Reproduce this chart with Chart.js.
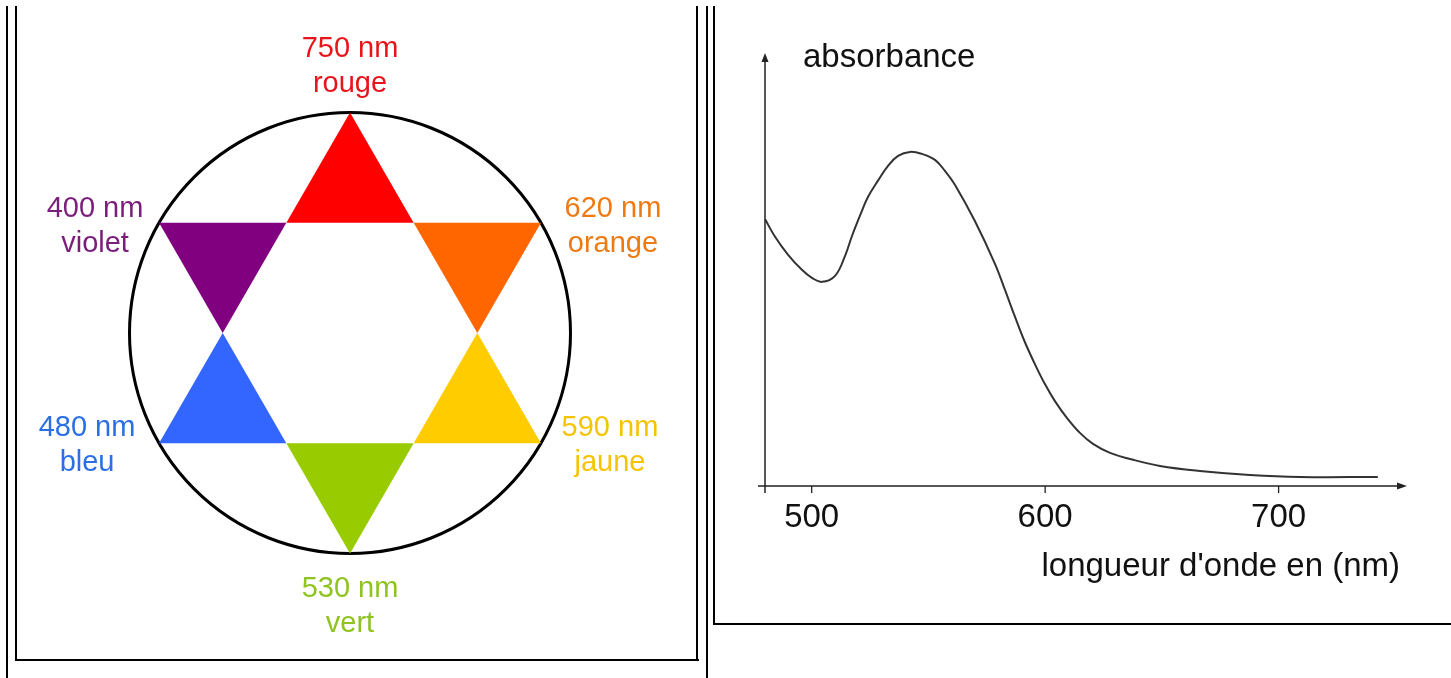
<!DOCTYPE html>
<html>
<head>
<meta charset="utf-8">
<script src="https://cdn.jsdelivr.net/npm/chart.js@4/dist/chart.umd.min.js"></script>
<style>
body{margin:0;background:#fff;width:1451px;height:678px;overflow:hidden;position:relative;font-family:"Liberation Sans",Arial,sans-serif;}
.ln{position:absolute;background:#000;}
canvas{position:absolute;}
</style>
</head>
<body>
<div class="ln" style="left:6px;top:6px;width:2px;height:672px"></div>
<div class="ln" style="left:15px;top:6px;width:2px;height:655px"></div>
<div class="ln" style="left:15px;top:659px;width:684px;height:2px"></div>
<div class="ln" style="left:696px;top:6px;width:2px;height:655px"></div>
<div class="ln" style="left:706px;top:6px;width:2px;height:672px"></div>
<div class="ln" style="left:713px;top:6px;width:2px;height:619px"></div>
<div class="ln" style="left:713px;top:623px;width:738px;height:2px"></div>

<canvas id="wheelChart" width="679" height="653" style="left:17px;top:6px"></canvas>
<canvas id="spectrumChart" width="737" height="624" style="left:714px;top:0px"></canvas>

<script>
// roue des couleurs
const wavelengths=[750,620,590,530,480,400];
const colorNames=["rouge","orange","jaune","vert","bleu","violet"];
const tipAngles=[90,30,-30,-90,-150,150];
const fillColors=["#ff0000","#ff6600","#ffcc00","#99cc00","#3366ff","#800080"];
const textColors=["#e8141b","#ee7a14","#f5c400","#8fc31f","#2b6fe6","#7b1d7b"];

// spectre d'absorption
const lambda=[480,484.3,489.9,495.8,500.1,504.4,510,514.3,517.3,521.5,524.1,528.4,532.7,537,542.1,547.2,552.8,557.1,561.4,569.9,578.5,582.8,587.1,591.3,595.6,599.9,604.2,609.3,614.9,620.5,627.8,636.3,649.2,666.3,687.7,709.1,742.5];
const absorbance=[0.799,0.746,0.692,0.647,0.623,0.611,0.629,0.689,0.749,0.823,0.865,0.914,0.958,0.988,1.000,0.994,0.976,0.943,0.901,0.793,0.665,0.587,0.506,0.431,0.365,0.305,0.254,0.204,0.159,0.126,0.099,0.081,0.060,0.045,0.033,0.027,0.027];
const xTicks=[500,600,700];

const FONT='"Liberation Sans", Arial, sans-serif';
const R=220.5;
const r=R/Math.sqrt(3);

function polar(rad,deg){
let a=deg*Math.PI/180;
return {x:rad*Math.cos(a),y:rad*Math.sin(a)};
}

let wheelSets=tipAngles.map((ang,i)=>{
let tip=polar(R,ang);
return {
data:[tip,polar(r,ang-30),polar(r,ang+30),tip],
showLine:true,
fill:"shape",
backgroundColor:fillColors[i],
borderWidth:0,
pointRadius:0,
clip:false,
order:1
};
});

wheelSets.push({
data:[{x:0,y:0}],
showLine:false,
pointRadius:R,
pointBorderWidth:3,
pointBorderColor:"#000",
pointBackgroundColor:"rgba(0,0,0,0)",
clip:false,
order:2
});

// position des étiquettes par rapport à la pointe
const labelShift=[[0,-47],[72,3],[69,2],[0,52],[-72,2],[-64,3]];

const wheelLabels={
id:"wheelLabels",
afterDraw(chart){
let ctx=chart.ctx;
let xs=chart.scales.x, ys=chart.scales.y;
ctx.save();
ctx.font="29px "+FONT;
ctx.textAlign="center";
ctx.textBaseline="middle";
tipAngles.forEach((ang,i)=>{
let tip=polar(R,ang);
let px=xs.getPixelForValue(tip.x)+labelShift[i][0];
let py=ys.getPixelForValue(tip.y)+labelShift[i][1];
ctx.fillStyle=textColors[i];
ctx.fillText(wavelengths[i]+" nm",px,py-17);
ctx.fillText(colorNames[i],px,py+18);
});
ctx.restore();
}
};

new Chart(document.getElementById("wheelChart"),{
type:"scatter",
data:{datasets:wheelSets},
options:{
responsive:false,
animation:false,
events:[],
layout:{padding:0,autoPadding:false},
plugins:{legend:{display:false},tooltip:{enabled:false}},
scales:{
x:{type:"linear",display:false,min:-333,max:346},
y:{type:"linear",display:false,min:-326,max:327}
}
},
plugins:[wheelLabels]
});


const spectrumAxes={
id:"spectrumAxes",
afterDraw(chart){
let ctx=chart.ctx;
let xs=chart.scales.x, ys=chart.scales.y;
let ox=xs.getPixelForValue(xs.min);
let oy=ys.getPixelForValue(0);
let top=ys.getPixelForValue(ys.max);
let right=xs.getPixelForValue(xs.max);
ctx.save();
ctx.strokeStyle="#222";
ctx.fillStyle="#222";
ctx.lineWidth=1.5;
ctx.beginPath();
ctx.moveTo(ox,oy+7);
ctx.lineTo(ox,top+6);
ctx.moveTo(ox-7,oy);
ctx.lineTo(right-6,oy);
ctx.stroke();
// fleches
ctx.beginPath();
ctx.moveTo(ox,top);
ctx.lineTo(ox-3.5,top+9);
ctx.lineTo(ox+3.5,top+9);
ctx.closePath();
ctx.fill();
ctx.beginPath();
ctx.moveTo(right,oy);
ctx.lineTo(right-10,oy-3.5);
ctx.lineTo(right-10,oy+3.5);
ctx.closePath();
ctx.fill();
// graduations
ctx.lineWidth=1.3;
ctx.beginPath();
xTicks.forEach(t=>{
let px=xs.getPixelForValue(t);
ctx.moveTo(px,oy);
ctx.lineTo(px,oy+7);
});
ctx.stroke();
ctx.fillStyle="#111";
ctx.font="33px "+FONT;
ctx.textAlign="center";
ctx.textBaseline="alphabetic";
xTicks.forEach(t=>{
ctx.fillText(String(t),xs.getPixelForValue(t),oy+41);
});
ctx.textAlign="left";
ctx.fillText("absorbance",ox+38,top+14);
ctx.textAlign="right";
ctx.fillText("longueur d'onde en (nm)",right-7,oy+90);
ctx.restore();
}
};

new Chart(document.getElementById("spectrumChart"),{
type:"line",
data:{
datasets:[{
data:lambda.map((l,i)=>({x:l,y:absorbance[i]})),
borderColor:"#333",
borderWidth:2,
pointRadius:0,
fill:false,
tension:0.4
}]
},
options:{
responsive:false,
animation:false,
events:[],
layout:{padding:{left:51,right:44,top:53,bottom:138},autoPadding:false},
plugins:{legend:{display:false},tooltip:{enabled:false}},
scales:{
x:{type:"linear",display:false,min:480,max:755},
y:{type:"linear",display:false,min:0,max:1.296}
}
},
plugins:[spectrumAxes]
});
</script>
</body>
</html>
